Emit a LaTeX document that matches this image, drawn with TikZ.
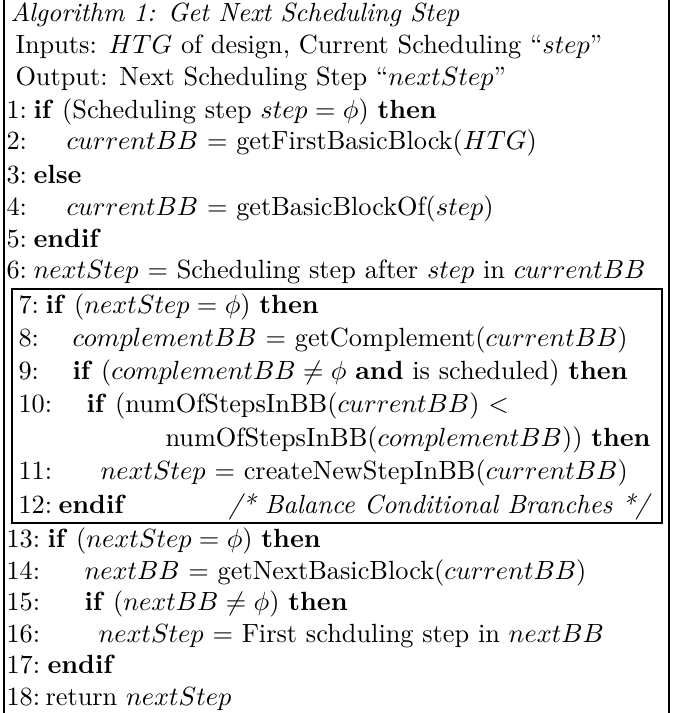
\documentclass[tikz,border=0pt]{standalone}
\usepackage{amsmath}

\tikzset{
  lnum/.style={anchor=base west, inner sep=0pt},
  ltxt/.style={anchor=base west, inner sep=0pt},
  rule/.style={line width=1pt},
}
\newcommand{\kw}[1]{\textbf{#1}}

\begin{document}
\begin{tikzpicture}[x=0.38pt,y=-0.38pt]
  \useasboundingbox (0,0) rectangle (673,713);

  % side rules of the algorithm float
  \draw[rule] (4,0) -- (4,713);
  \draw[rule] (669,0) -- (669,713);

  % header
  \node[ltxt] (title) at (10,22) {\textit{Algorithm 1: Get Next Scheduling Step}};
  \node[ltxt] (inputs) at (15,54) {Inputs: $HTG$ of design, Current Scheduling ``$step$''};
  \node[ltxt] (output) at (15,86) {Output: Next Scheduling Step ``$nextStep$''};

  % lines 1--6
  \node[lnum] (n1) at (6,118) {1:};
  \node[ltxt] (t1) at (33,118) {\kw{if} (Scheduling step $step = \phi$) \kw{then}};
  \node[lnum] (n2) at (6,150) {2:};
  \node[ltxt] (t2) at (66,150) {$currentBB$ = getFirstBasicBlock($HTG$)};
  \node[lnum] (n3) at (6,183) {3:};
  \node[ltxt] (t3) at (33,183) {\kw{else}};
  \node[lnum] (n4) at (6,215) {4:};
  \node[ltxt] (t4) at (66,215) {$currentBB$ = getBasicBlockOf($step$)};
  \node[lnum] (n5) at (6,247) {5:};
  \node[ltxt] (t5) at (33,247) {\kw{endif}};
  \node[lnum] (n6) at (6,278) {6:};
  \node[ltxt] (t6) at (33,278) {$nextStep$ = Scheduling step after $step$ in $currentBB$};

  % balancing of conditional branches, boxed
  \draw[rule] (12,289) rectangle (662,523);
  \node[lnum] (n7) at (18,313) {7:};
  \node[ltxt] (t7) at (45,313) {\kw{if} ($nextStep = \phi$) \kw{then}};
  \node[lnum] (n8) at (18,346) {8:};
  \node[ltxt] (t8) at (72,346) {$complementBB$ = getComplement($currentBB$)};
  \node[lnum] (n9) at (18,379) {9:};
  \node[ltxt] (t9) at (72,379) {\kw{if} ($complementBB \neq \phi$ \kw{and} is scheduled) \kw{then}};
  \node[lnum] (n10) at (18,412) {10:};
  \node[ltxt] (t10) at (86,412) {\kw{if} (numOfStepsInBB($currentBB$) $<$};
  \node[ltxt] (t10b) at (165,446) {numOfStepsInBB($complementBB$)) \kw{then}};
  \node[lnum] (n11) at (18,479) {11:};
  \node[ltxt] (t11) at (100,479) {$nextStep$ = createNewStepInBB($currentBB$)};
  \node[lnum] (n12) at (18,513) {12:};
  \node[ltxt] (t12) at (58,513) {\kw{endif}};
  \node[anchor=base east, inner sep=0pt] (c12) at (652,513) {\textit{/* Balance Conditional Branches */}};

  % lines 13--18
  \node[lnum] (n13) at (6,547) {13:};
  \node[ltxt] (t13) at (47,547) {\kw{if} ($nextStep = \phi$) \kw{then}};
  \node[lnum] (n14) at (6,579) {14:};
  \node[ltxt] (t14) at (84,579) {$nextBB$ = getNextBasicBlock($currentBB$)};
  \node[lnum] (n15) at (6,610) {15:};
  \node[ltxt] (t15) at (84,610) {\kw{if} ($nextBB \neq \phi$) \kw{then}};
  \node[lnum] (n16) at (6,642) {16:};
  \node[ltxt] (t16) at (98,642) {$nextStep$ = First schduling step in $nextBB$};
  \node[lnum] (n17) at (6,673) {17:};
  \node[ltxt] (t17) at (47,673) {\kw{endif}};
  \node[lnum] (n18) at (6,705) {18:};
  \node[ltxt] (t18) at (45,705) {return $nextStep$};
\end{tikzpicture}
\end{document}
